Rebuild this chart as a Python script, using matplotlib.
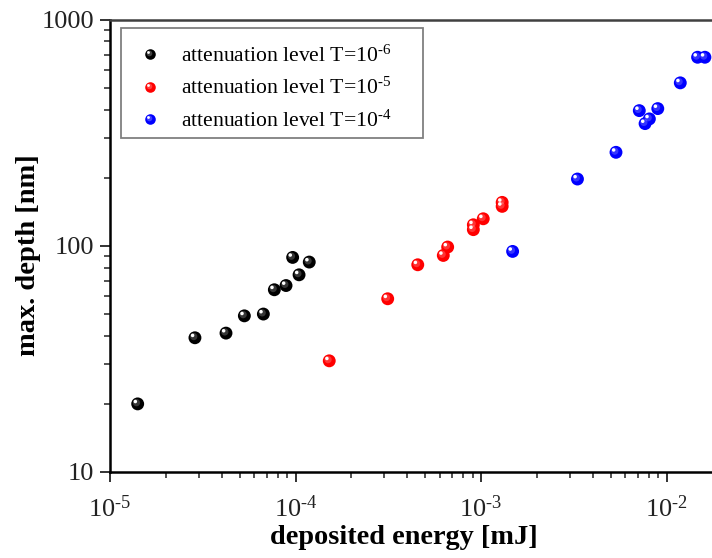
import matplotlib
matplotlib.use("Agg")
import matplotlib.pyplot as plt
from matplotlib.lines import Line2D
from matplotlib.patches import Rectangle
from matplotlib.legend_handler import HandlerBase
from matplotlib.ticker import FuncFormatter, LogLocator, NullFormatter
from matplotlib.transforms import offset_copy
import numpy as np

# deposited energy [mJ] and maximum depth [nm] for each attenuation level
energy_t6 = [1.41e-5, 2.87e-5, 4.22e-5, 5.30e-5, 6.71e-5, 7.69e-5, 8.89e-5,
             9.65e-5, 1.045e-4, 1.186e-4]
depth_t6 = [20.0, 39.2, 41.1, 49.0, 49.9, 63.9, 66.7, 88.8, 74.4, 84.7]

energy_t5 = [1.52e-4, 3.14e-4, 4.56e-4, 6.26e-4, 6.61e-4, 9.09e-4, 9.09e-4,
             1.028e-3, 1.30e-3, 1.30e-3]
depth_t5 = [31.0, 58.3, 82.4, 90.6, 98.7, 117.8, 123.8, 131.6, 149.3, 155.5]

energy_t4 = [1.48e-3, 3.31e-3, 5.34e-3, 7.13e-3, 7.66e-3, 8.08e-3, 8.97e-3,
             1.186e-2, 1.47e-2, 1.61e-2]
depth_t4 = [94.4, 197.2, 258.8, 395.6, 346.6, 363.6, 403.8, 524.8, 681.0, 681.0]

HY = "\u2010"  # short hyphen used in the exponents
series_labels = ["attenuation level T=10$^{\\mathregular{%s6}}$" % HY,
                 "attenuation level T=10$^{\\mathregular{%s5}}$" % HY,
                 "attenuation level T=10$^{\\mathregular{%s4}}$" % HY]
series_colors = ["#000000", "#ff0000", "#0000ff"]
highlight_colors = ["#d8d8d8", "#ffd0d0", "#d0d0ff"]

plt.rcParams["font.family"] = ["Liberation Serif", "DejaVu Serif"]
plt.rcParams["mathtext.fontset"] = "custom"
plt.rcParams["mathtext.rm"] = "Liberation Serif"
plt.rcParams["mathtext.it"] = "Liberation Serif:italic"
plt.rcParams["mathtext.bf"] = "Liberation Serif:bold"

W, H = 712, 558
fig = plt.figure(figsize=(W / 100, H / 100), dpi=100)
ax_left, ax_right_px, ax_top, ax_bottom = 110, 722.2, 19.5, 472
ax_w = ax_right_px - ax_left
ax_h = ax_bottom - ax_top
ax = fig.add_axes([ax_left / W, (H - ax_bottom) / H, ax_w / W, ax_h / H])


def px_to_axes(x, y):
    """Pixel position (from top-left of the figure) to axes fraction."""
    return (x - ax_left) / ax_w, (ax_bottom - y) / ax_h


ax.set_xscale("log")
ax.set_yscale("log")
ax.set_xlim(1e-5, 10 ** -1.7)
ax.set_ylim(10, 1000)

hl_trans = offset_copy(ax.transData, fig=fig, x=-1.7, y=1.7, units="points")
mid_trans = offset_copy(ax.transData, fig=fig, x=-0.85, y=0.85, units="points")

datasets = [(energy_t6, depth_t6), (energy_t5, depth_t5), (energy_t4, depth_t4)]
for (ex, dy), col, hcol in zip(datasets, series_colors, highlight_colors):
    ax.scatter(ex, dy, s=86, color=col, edgecolors="none", zorder=3)
    ax.scatter(ex, dy, s=27, color=hcol, alpha=0.25, edgecolors="none",
               zorder=4, transform=mid_trans)
    ax.scatter(ex, dy, s=6.5, color="white", edgecolors="none", zorder=5,
               transform=hl_trans)


class SphereHandler(HandlerBase):
    def __init__(self, color, hcolor):
        super().__init__()
        self.color = color
        self.hcolor = hcolor

    def create_artists(self, legend, orig_handle, xdescent, ydescent, width,
                       height, fontsize, trans):
        cx = width / 2 - xdescent
        cy = height / 2 - ydescent
        base = Line2D([cx], [cy], marker="o", markersize=7.6, color=self.color,
                      markeredgewidth=0, linestyle="none", transform=trans)
        glow = Line2D([cx - 0.6], [cy + 0.6], marker="o", markersize=4.0,
                      color=self.hcolor, alpha=0.3, markeredgewidth=0,
                      linestyle="none", transform=trans)
        hl = Line2D([cx - 1.3], [cy + 1.3], marker="o", markersize=2.0,
                    color="white", markeredgewidth=0, linestyle="none",
                    transform=trans)
        return [base, glow, hl]


# legend frame
fx0, fy0 = px_to_axes(121.5, 138.3)
fx1, fy1 = px_to_axes(422.5, 28.3)
ax.add_patch(Rectangle((fx0, fy0), fx1 - fx0, fy1 - fy0, transform=ax.transAxes,
                       facecolor="white", edgecolor="#808080", linewidth=1.3,
                       zorder=6))

handles = [Line2D([], [], linestyle="none") for _ in series_labels]
handler_map = {h: SphereHandler(c, hc)
               for h, c, hc in zip(handles, series_colors, highlight_colors)}
leg = ax.legend(handles, series_labels, handler_map=handler_map,
                loc="upper left", bbox_to_anchor=px_to_axes(137.5, 45.5),
                fontsize=15.6, frameon=False, borderpad=0.0,
                labelspacing=0.52, handlelength=1.15, handletextpad=0.85,
                borderaxespad=0.0)
leg.set_zorder(7)

# spines and ticks
for side in ["left", "bottom", "top"]:
    ax.spines[side].set_linewidth(1.8)
ax.spines["top"].set_color("#404040")
ax.spines["right"].set_visible(False)


def decade_label(v, pos):
    exp = int(round(np.log10(v)))
    sign = HY if exp < 0 else ""
    return "10$^{\\mathregular{%s%d}}$" % (sign, abs(exp))


ax.xaxis.set_major_locator(LogLocator(base=10, numticks=10))
ax.xaxis.set_minor_locator(LogLocator(base=10, subs=np.arange(2, 10), numticks=20))
ax.yaxis.set_major_locator(LogLocator(base=10, numticks=10))
ax.yaxis.set_minor_locator(LogLocator(base=10, subs=np.arange(2, 10), numticks=20))
ax.xaxis.set_minor_formatter(NullFormatter())
ax.yaxis.set_minor_formatter(NullFormatter())
ax.xaxis.set_major_formatter(FuncFormatter(decade_label))
ax.yaxis.set_major_formatter(FuncFormatter(lambda v, p: "%d" % int(round(v))))

ax.tick_params(which="major", direction="out", length=7, width=1.3,
               labelsize=19, colors="#222222", top=False, right=False)
ax.tick_params(which="minor", direction="out", length=4.2, width=1.1,
               colors="#222222", top=False, right=False)
ax.tick_params(axis="y", which="major", pad=4.5)
ax.tick_params(axis="x", which="major", pad=10)

ax.set_xlabel("deposited energy [mJ]", fontsize=20.3, fontweight="bold")
ax.set_ylabel("max. depth [nm]", fontsize=20.5, fontweight="bold")
ax.xaxis.set_label_coords(*px_to_axes(404, 525))
ax.yaxis.set_label_coords(*px_to_axes(41.5, 255))

fig.savefig("out.png", dpi=100)
